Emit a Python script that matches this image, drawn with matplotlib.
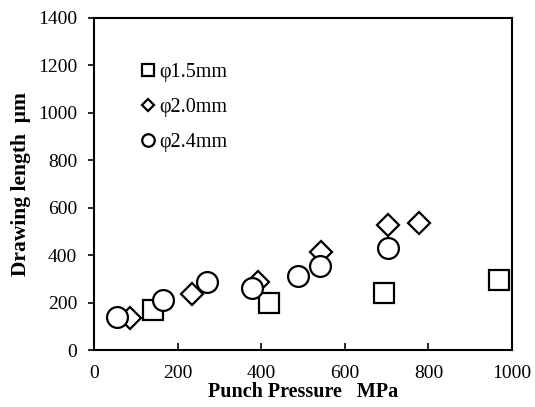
import matplotlib.pyplot as plt

plt.rcParams['font.family'] = 'Liberation Serif'

# Datos
sq_x = [140, 419, 694, 969]
sq_y = [168, 200, 240, 295]
di_x = [86, 234, 392, 543, 703, 778]
di_y = [135, 236, 285, 414, 527, 536]
ci_x = [55, 165, 271, 378, 489, 541, 703]
ci_y = [139, 211, 287, 261, 313, 355, 430]

fig = plt.figure(figsize=(5.35, 4.07), dpi=100)
ax = fig.add_axes([0.1757, 0.140, 0.7813, 0.816])

ax.plot(sq_x, sq_y, 's', ms=14, mfc='white', mec='black', mew=1.6, label='φ1.5mm')
ax.plot(di_x, di_y, 'D', ms=11, mfc='white', mec='black', mew=1.6, label='φ2.0mm')
ax.plot(ci_x, ci_y, 'o', ms=15, mfc='white', mec='black', mew=1.6, label='φ2.4mm')

ax.set_xlim(0, 1000)
ax.set_ylim(0, 1400)
ax.set_xticks(range(0, 1001, 200))
ax.set_yticks(range(0, 1401, 200))
ax.tick_params(axis='x', direction='in', labelsize=14, pad=11, length=5, width=1.2)
ax.tick_params(axis='y', direction='out', labelsize=14, length=4, width=1.2, pad=8)
for s in ax.spines.values():
    s.set_linewidth(1.5)

ax.set_xlabel('Punch Pressure   MPa', fontsize=14.5, fontweight='bold', labelpad=0)
ax.set_ylabel('Drawing length  μm', fontsize=15.5, fontweight='bold', labelpad=5)

leg = ax.legend(loc='upper left', bbox_to_anchor=(0.111, 0.864), frameon=False,
                fontsize=14.5, markerscale=0.6, handlelength=0.8, handletextpad=0.15,
                labelspacing=0.78, borderpad=0, borderaxespad=0)

fig.savefig('out.png', dpi=100)
